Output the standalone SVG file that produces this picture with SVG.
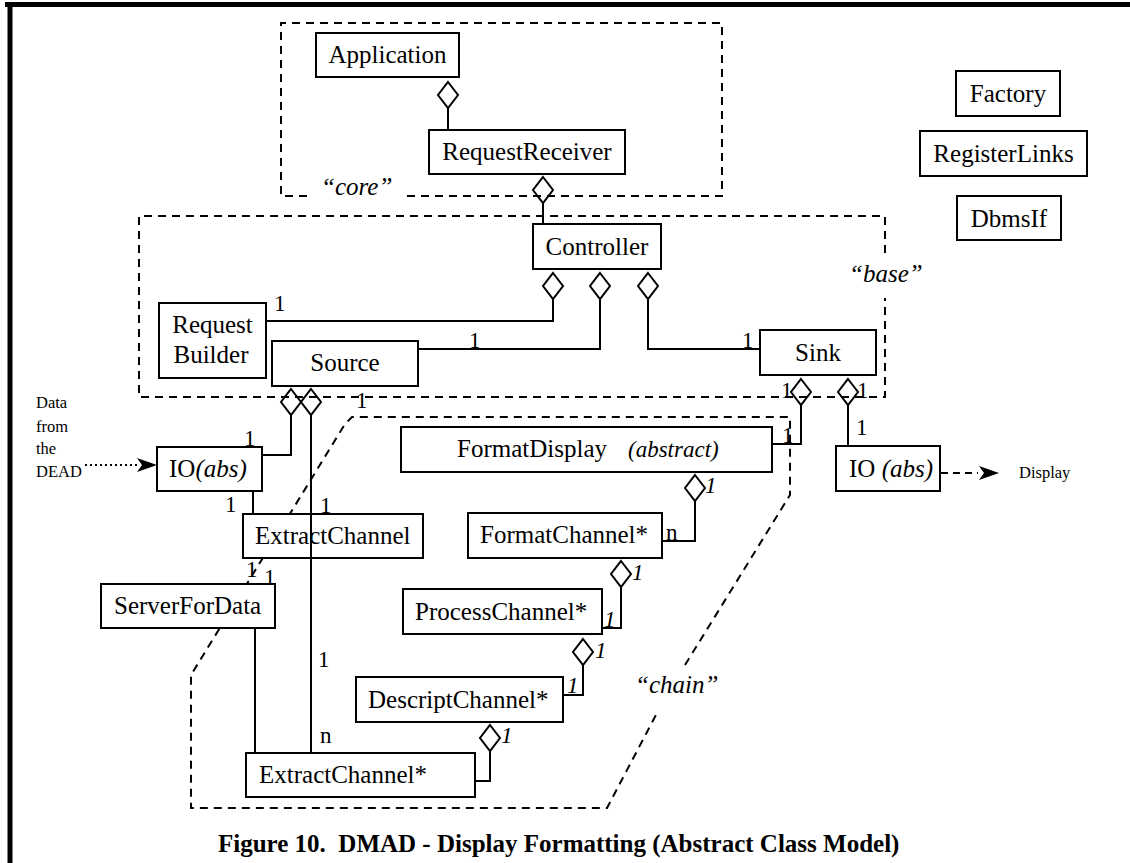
<svg xmlns="http://www.w3.org/2000/svg" xmlns:xlink="http://www.w3.org/1999/xlink" width="1130" height="863" viewBox="0 0 1130 863">
  <style>
    .box { fill: #fff; stroke: #000; stroke-width: 2; }
    .t { font-family: "Liberation Serif", "Times New Roman", serif; font-size: 25px; fill: #000; }
    .c { text-anchor: middle; }
    .m { font-size: 23px; }
    .s { font-size: 16.5px; }
    .i { font-style: italic; }
    .ln { fill: none; stroke: #000; stroke-width: 2; }
    .dash { fill: none; stroke: #000; stroke-width: 2; stroke-dasharray: 8 6; }
    .dot { fill: none; stroke: #000; stroke-width: 2; stroke-dasharray: 2 3; }
    .dia { fill: none; stroke: #000; stroke-width: 2; }
    .frame { stroke: #000; stroke-width: 5; }
    .cap { font-weight: bold; }
  </style>
  <defs>
    <!-- aggregation diamond, top vertex at the origin -->
    <path id="dia" class="dia" d="M0,0 L10,13 L0,26 L-10,13 Z"/>
    <path id="head" d="M0,0 L-20,-7 L-15,0 L-20,7 Z" fill="#000"/>
  </defs>

  <!-- page frame -->
  <g id="frame">
    <line class="frame" x1="5" y1="4.5" x2="1130" y2="4.5"/>
    <line class="frame" x1="10" y1="3" x2="10" y2="863"/>
  </g>

  <!-- package outlines -->
  <g id="packages">
    <path class="dash" d="M307,196 L281,196 L281,23 L722,23 L722,196 L402,196"/>
    <text class="t i" x="321" y="195">“core”</text>
    <path class="dash" d="M885,253 L885,216 L139,216 L139,397 L885,397 L885,298"/>
    <text class="t i" x="849" y="282">“base”</text>
    <path class="dash" d="M685,665 L790,495 L790,417 L352,417 L345,424 L191,675 L191,808 L607,808 L657,713"/>
    <text class="t i" x="635" y="693">“chain”</text>
  </g>

  <!-- classes -->
  <g id="application"><rect class="box" x="316" y="33" width="143" height="44"/><text class="t c" x="387.5" y="63">Application</text></g>
  <g id="request-receiver"><rect class="box" x="429" y="130" width="196" height="44"/><text class="t c" x="527" y="160">RequestReceiver</text></g>
  <g id="controller"><rect class="box" x="533" y="224" width="128" height="45"/><text class="t c" x="597" y="255">Controller</text></g>
  <g id="factory"><rect class="box" x="956" y="71" width="104" height="45"/><text class="t c" x="1008" y="102">Factory</text></g>
  <g id="register-links"><rect class="box" x="920" y="131" width="167" height="45"/><text class="t c" x="1003.5" y="162">RegisterLinks</text></g>
  <g id="dbms-if"><rect class="box" x="957" y="196" width="104" height="44"/><text class="t c" x="1009" y="227">DbmsIf</text></g>
  <g id="request-builder"><rect class="box" x="159" y="303" width="107" height="75"/><text class="t c" x="212.5" y="333">Request</text><text class="t c" x="211" y="363">Builder</text></g>
  <g id="source"><rect class="box" x="272" y="341" width="146" height="45"/><text class="t c" x="345" y="371">Source</text></g>
  <g id="sink"><rect class="box" x="760" y="330" width="116" height="45"/><text class="t c" x="818" y="361">Sink</text></g>
  <g id="io-in"><rect class="box" x="157" y="447" width="105" height="44"/><text class="t" x="169" y="477">IO<tspan class="i">(abs)</tspan></text></g>
  <g id="io-out"><rect class="box" x="836" y="446" width="104" height="45"/><text class="t" x="849" y="477">IO <tspan class="i">(abs)</tspan></text></g>
  <g id="format-display"><rect class="box" x="401" y="427" width="371" height="45"/><text class="t" x="457" y="457">FormatDisplay</text><text class="t i m" x="628" y="457">(abstract)</text></g>
  <g id="extract-channel"><rect class="box" x="243" y="514" width="180" height="44"/><text class="t" x="255" y="544">ExtractChannel</text></g>
  <g id="format-channel"><rect class="box" x="468" y="513" width="194" height="45"/><text class="t" x="480" y="543">FormatChannel*</text></g>
  <g id="server-for-data"><rect class="box" x="101" y="584" width="174" height="44"/><text class="t" x="114" y="614">ServerForData</text></g>
  <g id="process-channel"><rect class="box" x="403" y="589" width="199" height="45"/><text class="t" x="415" y="620">ProcessChannel*</text></g>
  <g id="descript-channel"><rect class="box" x="356" y="677" width="207" height="45"/><text class="t" x="368" y="708">DescriptChannel*</text></g>
  <g id="extract-channel-star"><rect class="box" x="246" y="753" width="229" height="44"/><text class="t" x="259" y="783">ExtractChannel*</text></g>

  <!-- free-standing notes -->
  <g id="dead-note">
    <text class="t s" x="36" y="408">Data</text>
    <text class="t s" x="36" y="432">from</text>
    <text class="t s" x="36" y="454">the</text>
    <text class="t s" x="36" y="477">DEAD</text>
  </g>
  <g id="display-note"><text class="t s" x="1019" y="478">Display</text></g>

  <!-- connectors -->
  <g id="connectors">
    <use xlink:href="#dia" x="448" y="82"/>
    <line class="ln" x1="448" y1="108" x2="448" y2="130"/>
    <use xlink:href="#dia" x="543" y="177"/>
    <line class="ln" x1="543" y1="203" x2="543" y2="224"/>

    <use xlink:href="#dia" x="553" y="273"/>
    <polyline class="ln" points="553,299 553,321 266,321"/>
    <use xlink:href="#dia" x="600" y="273"/>
    <polyline class="ln" points="600,299 600,349 418,349"/>
    <use xlink:href="#dia" x="648" y="273"/>
    <polyline class="ln" points="648,299 648,349 760,349"/>

    <use xlink:href="#dia" x="291" y="389"/>
    <polyline class="ln" points="291,415 291,455 262,455"/>
    <use xlink:href="#dia" x="311" y="389"/>
    <line class="ln" x1="311" y1="415" x2="311" y2="753"/>

    <line class="ln" x1="253" y1="491" x2="253" y2="514"/>
    <line class="ln" x1="255" y1="628" x2="255" y2="753"/>

    <use xlink:href="#dia" x="801" y="379"/>
    <polyline class="ln" points="801,405 801,444 772,444"/>
    <use xlink:href="#dia" x="848" y="379"/>
    <line class="ln" x1="848" y1="405" x2="848" y2="446"/>

    <use xlink:href="#dia" x="695" y="475"/>
    <polyline class="ln" points="695,501 695,541 662,541"/>
    <use xlink:href="#dia" x="621" y="561"/>
    <polyline class="ln" points="621,587 621,628 602,628"/>
    <use xlink:href="#dia" x="583" y="639"/>
    <polyline class="ln" points="583,665 583,695 563,695"/>
    <use xlink:href="#dia" x="490" y="725"/>
    <polyline class="ln" points="490,751 490,781 475,781"/>

    <line class="dot" x1="85" y1="465" x2="140" y2="465"/>
    <use xlink:href="#head" x="157" y="465"/>
    <line class="dash" x1="941" y1="473" x2="978" y2="473" style="stroke-dasharray:7 5"/>
    <use xlink:href="#head" x="999" y="473"/>

    <!-- multiplicities -->
    <text class="t m" x="274" y="311">1</text>
    <text class="t m" x="469" y="348">1</text>
    <text class="t m" x="742" y="348">1</text>
    <text class="t m" x="356" y="408">1</text>
    <text class="t m" x="244" y="446">1</text>
    <text class="t m" x="225" y="512">1</text>
    <text class="t m" x="320" y="513">1</text>
    <text class="t m" x="246" y="577">1</text>
    <text class="t m" x="264" y="585">1</text>
    <text class="t m" x="318" y="667">1</text>
    <text class="t m" x="320" y="743">n</text>
    <text class="t m" x="781" y="398">1</text>
    <text class="t m" x="857" y="398">1</text>
    <text class="t m" x="782" y="443">1</text>
    <text class="t m" x="856" y="435">1</text>
    <text class="t m" x="666" y="540">n</text>
    <text class="t m i" x="705" y="493">1</text>
    <text class="t m i" x="632" y="580">1</text>
    <text class="t m i" x="604" y="627">1</text>
    <text class="t m i" x="595" y="658">1</text>
    <text class="t m i" x="567" y="693">1</text>
    <text class="t m i" x="501" y="743">1</text>
  </g>

  <g id="caption">
    <text class="t cap" x="218" y="852" xml:space="preserve">Figure 10.  DMAD - Display Formatting (Abstract Class Model)</text>
  </g>
</svg>
